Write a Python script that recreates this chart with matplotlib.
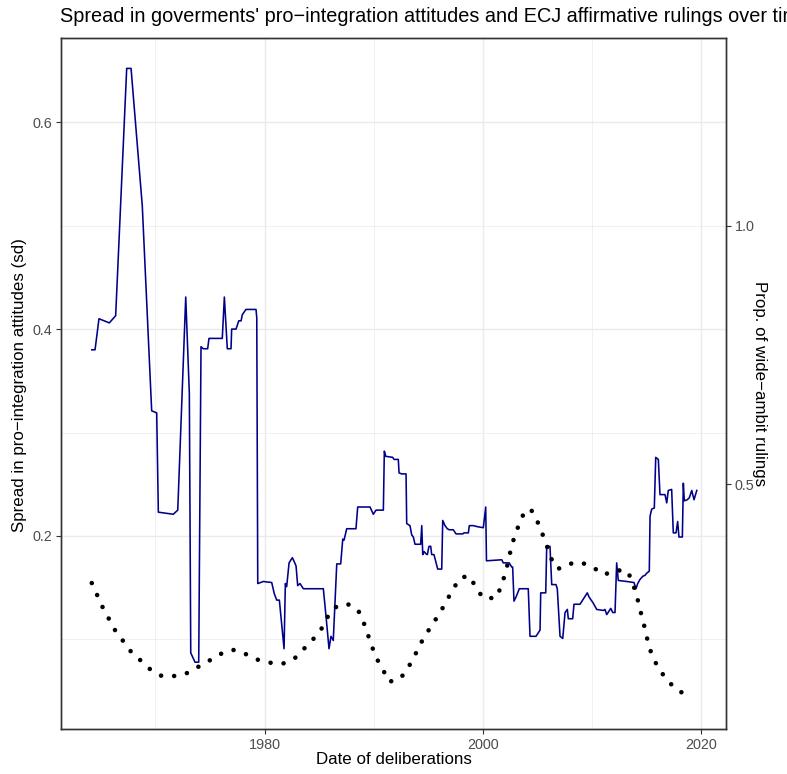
"""
Spread in governments' pro-integration attitudes and ECJ wide-ambit rulings
"""

###############
# - IMPORTS - #
###############

import matplotlib

matplotlib.use("Agg")
import matplotlib.pyplot as plt
from matplotlib.ticker import FixedLocator


############
# - DATA - #
############

# Spread in pro-integration attitudes (sd), left axis
gov_years = [
    1964.17, 1964.47, 1964.83, 1965.78, 1966.36, 1967.37, 1967.77, 1968.80,
    1969.66, 1970.12, 1970.27, 1971.64, 1972.05, 1972.78, 1973.11, 1973.24,
    1973.63, 1973.97, 1974.18, 1974.39, 1974.79, 1974.91, 1976.13, 1976.32,
    1976.59, 1976.93, 1976.99, 1977.39, 1977.64, 1977.85, 1977.97, 1978.30,
    1979.22, 1979.29, 1979.38, 1979.89, 1980.66, 1980.90, 1981.12, 1981.36,
    1981.79, 1981.91, 1982.03, 1982.25, 1982.55, 1982.73, 1982.89, 1983.04,
    1983.25, 1983.56, 1985.39, 1985.64, 1985.91, 1986.09, 1986.30, 1986.62,
    1986.98, 1987.17, 1987.29, 1987.53, 1988.38, 1988.54, 1989.67, 1989.97,
    1990.22, 1990.89, 1990.98, 1991.11, 1991.75, 1991.87, 1992.26, 1992.33,
    1992.57, 1992.97, 1993.03, 1993.33, 1993.49, 1993.64, 1993.79, 1994.31,
    1994.41, 1994.50, 1994.62, 1994.77, 1994.92, 1995.07, 1995.23, 1995.32,
    1995.53, 1995.87, 1996.24, 1996.33, 1996.54, 1996.75, 1996.93, 1997.30,
    1997.55, 1998.16, 1998.28, 1998.68, 1998.77, 1999.13, 1999.50, 2000.05,
    2000.27, 2000.34, 2001.74, 2001.88, 2002.43, 2002.65, 2002.74, 2002.86,
    2003.05, 2003.35, 2004.17, 2004.33, 2004.88, 2005.25, 2005.31, 2005.77,
    2005.86, 2006.16, 2006.32, 2006.71, 2006.83, 2007.08, 2007.33, 2007.54,
    2007.75, 2007.84, 2008.24, 2008.36, 2008.91, 2009.21, 2009.58, 2009.74,
    2010.13, 2010.44, 2011.05, 2011.20, 2011.36, 2011.73, 2011.91, 2012.12,
    2012.27, 2012.42, 2013.19, 2013.86, 2014.04, 2014.20, 2014.41, 2014.66,
    2014.87, 2015.02, 2015.26, 2015.33, 2015.48, 2015.72, 2015.85, 2016.09,
    2016.24, 2016.70, 2016.86, 2017.00, 2017.31, 2017.46, 2017.71, 2017.86,
    2017.98, 2018.29, 2018.38, 2018.47, 2018.74, 2018.93, 2019.15, 2019.36,
    2019.61,
]
gov_sd = [
    0.380, 0.380, 0.410, 0.406, 0.413, 0.652, 0.652, 0.519,
    0.321, 0.319, 0.223, 0.221, 0.225, 0.431, 0.338, 0.087,
    0.078, 0.078, 0.383, 0.381, 0.381, 0.391, 0.391, 0.431,
    0.381, 0.381, 0.400, 0.400, 0.408, 0.408, 0.414, 0.419,
    0.419, 0.411, 0.154, 0.156, 0.155, 0.144, 0.138, 0.138,
    0.091, 0.154, 0.151, 0.174, 0.179, 0.175, 0.171, 0.152,
    0.154, 0.149, 0.149, 0.122, 0.091, 0.103, 0.099, 0.173,
    0.173, 0.197, 0.196, 0.207, 0.207, 0.228, 0.228, 0.221,
    0.225, 0.225, 0.282, 0.277, 0.276, 0.274, 0.274, 0.261,
    0.260, 0.260, 0.212, 0.210, 0.201, 0.199, 0.192, 0.192,
    0.210, 0.182, 0.185, 0.183, 0.182, 0.190, 0.190, 0.182,
    0.182, 0.168, 0.168, 0.215, 0.210, 0.207, 0.206, 0.206,
    0.202, 0.202, 0.203, 0.203, 0.210, 0.210, 0.209, 0.208,
    0.228, 0.176, 0.177, 0.174, 0.174, 0.170, 0.170, 0.137,
    0.141, 0.149, 0.149, 0.103, 0.103, 0.109, 0.145, 0.145,
    0.190, 0.190, 0.153, 0.153, 0.149, 0.103, 0.101, 0.126,
    0.129, 0.120, 0.120, 0.134, 0.134, 0.139, 0.145, 0.141,
    0.135, 0.129, 0.128, 0.129, 0.124, 0.130, 0.126, 0.126,
    0.174, 0.157, 0.156, 0.155, 0.149, 0.154, 0.158, 0.161,
    0.162, 0.164, 0.166, 0.219, 0.226, 0.227, 0.276, 0.274,
    0.240, 0.240, 0.232, 0.244, 0.245, 0.203, 0.203, 0.214,
    0.199, 0.199, 0.251, 0.234, 0.235, 0.237, 0.244, 0.235,
    0.244,
]

# Smoothed proportion of wide-ambit rulings, right axis
ruling_years = [
    1964.17, 1965.17, 1966.30, 1967.74, 1969.48, 1970.52, 1971.64, 1972.81,
    1973.93, 1974.94, 1975.99, 1977.09, 1978.24, 1979.34, 1980.50, 1981.67,
    1982.79, 1983.62, 1984.44, 1985.18, 1985.73, 1986.46, 1987.56, 1988.57,
    1989.05, 1989.46, 1989.85, 1990.28, 1990.89, 1991.41, 1992.44, 1993.15,
    1993.73, 1994.25, 1994.83, 1995.51, 1996.15, 1996.72, 1997.30, 1997.94,
    1998.74, 1999.38, 2000.02, 2001.23, 2001.67, 2002.04, 2002.34, 2002.59,
    2002.91, 2003.35, 2003.83, 2004.40, 2004.97, 2005.43, 2005.86, 2006.19,
    2006.87, 2007.88, 2009.00, 2010.13, 2011.11, 2012.15, 2013.28, 2013.74,
    2014.11, 2014.38, 2014.69, 2014.96, 2015.24, 2015.63, 2016.24, 2016.95,
    2017.80, 2018.87,
]
ruling_prop = [
    0.309, 0.262, 0.218, 0.177, 0.143, 0.130, 0.129, 0.134,
    0.147, 0.159, 0.172, 0.180, 0.172, 0.161, 0.155, 0.153,
    0.164, 0.182, 0.200, 0.219, 0.242, 0.262, 0.269, 0.257,
    0.235, 0.210, 0.186, 0.163, 0.140, 0.118, 0.124, 0.145,
    0.167, 0.190, 0.211, 0.233, 0.254, 0.276, 0.298, 0.319,
    0.323, 0.301, 0.280, 0.280, 0.302, 0.326, 0.351, 0.376,
    0.399, 0.424, 0.447, 0.452, 0.430, 0.406, 0.382, 0.359,
    0.336, 0.346, 0.349, 0.339, 0.325, 0.334, 0.332, 0.309,
    0.285, 0.260, 0.236, 0.211, 0.186, 0.163, 0.140, 0.120,
    0.102, 0.091,
]

# Axis ticks and labels
x_ticks = [1980, 2000, 2020]
x_minor = [1970, 1990, 2010]
left_ticks = [0.2, 0.4, 0.6]
left_minor = [0.1, 0.3, 0.5]
right_ticks = [0.5, 1.0]

title = "Spread in goverments' pro\u2212integration attitudes and ECJ affirmative rulings over time"
x_label = "Date of deliberations"
left_label = "Spread in pro\u2212integration attitudes (sd)"
right_label = "Prop. of wide\u2212ambit rulings"


############
# - PLOT - #
############

plt.rcParams["font.family"] = ["Liberation Sans", "DejaVu Sans"]

fig = plt.figure(figsize=(7.87, 7.74), dpi=100)
ax = fig.add_axes([61 / 787, 45 / 774, 665 / 787, 691 / 774])
ax2 = ax.twinx()

# Limits (right axis is twice the left one)
ax.set_xlim(1961.35, 2022.29)
ax.set_ylim(0.0134, 0.6814)
ax2.set_ylim(0.0268, 1.3628)

# Grid
ax.xaxis.set_major_locator(FixedLocator(x_ticks))
ax.xaxis.set_minor_locator(FixedLocator(x_minor))
ax.yaxis.set_major_locator(FixedLocator(left_ticks))
ax.yaxis.set_minor_locator(FixedLocator(left_minor))
ax2.yaxis.set_major_locator(FixedLocator(right_ticks))
ax.grid(which="major", color="#EBEBEB", linewidth=1.07)
ax.grid(which="minor", color="#EBEBEB", linewidth=0.53)
ax.set_axisbelow(True)

# Plotting the lines
ax.plot(gov_years, gov_sd, color="#00008B", linewidth=1.15, zorder=3)
ax2.plot(
    ruling_years,
    ruling_prop,
    color="black",
    linewidth=3.3,
    linestyle=(0, (0.01, 2.85)),
    dash_capstyle="round",
    zorder=3,
)

# Formating the axes
for a in (ax, ax2):
    for side in a.spines.values():
        side.set_color("#333333")
        side.set_linewidth(1.0)
    a.tick_params(which="major", length=3.8, width=0.8, color="#333333",
                  labelsize=10.4, labelcolor="#4D4D4D", pad=2.5)
    a.tick_params(which="minor", length=0)

ax.set_xticklabels([str(t) for t in x_ticks])
ax.set_yticklabels([str(t) for t in left_ticks])
ax2.set_yticklabels([str(t) for t in right_ticks])

# Titles (the title runs past the right edge, as in the original)
fig.text(60 / 787, 1 - 17 / 774, title, fontsize=14.35, ha="left", va="center")
fig.text(393.5 / 787, 1 - 760 / 774, x_label, fontsize=12.2, ha="center", va="center")
fig.text(20 / 787, 1 - 385 / 774, left_label, fontsize=12.2, ha="center",
         va="center", rotation=90)
fig.text(760 / 787, 1 - 383.5 / 774, right_label, fontsize=12.2, ha="center",
         va="center", rotation=-90)

# Saving the plot
plt.savefig("out.png", dpi=100)
